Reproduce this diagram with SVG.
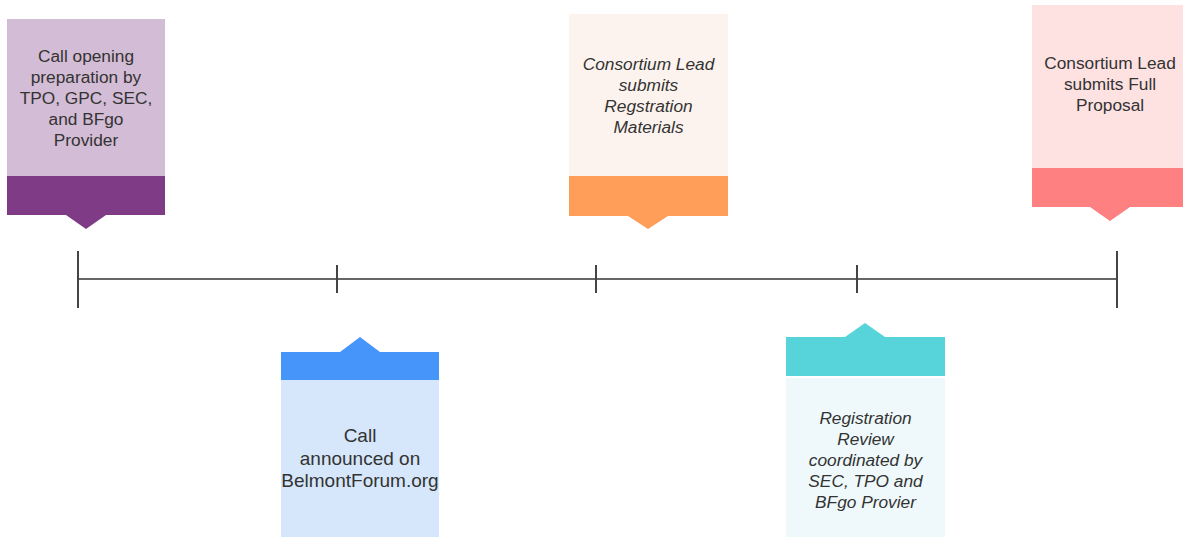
<svg xmlns="http://www.w3.org/2000/svg" width="1183" height="537" viewBox="0 0 1183 537">
<style>
text{font-family:"Liberation Sans",Arial,sans-serif;fill:#333;text-anchor:middle;font-size:17.3px}
.it{font-style:italic}
.big{font-size:19px}
.axis{stroke:#333;stroke-width:1.5;fill:none}
.tick{stroke:#444;stroke-width:2;fill:none}
</style>
<rect width="1183" height="537" fill="#fff"/>
<g id="timeline">
<line class="axis" x1="78" y1="279" x2="1117" y2="279"/>
<line class="tick" x1="78" y1="251" x2="78" y2="308"/>
<line class="tick" x1="337" y1="265" x2="337" y2="293"/>
<line class="tick" x1="596" y1="265" x2="596" y2="293"/>
<line class="tick" x1="857" y1="265" x2="857" y2="293"/>
<line class="tick" x1="1117" y1="251" x2="1117" y2="308"/>
</g>
<g id="node1">
<rect x="7" y="19" width="158" height="157" fill="#d3bcd5"/>
<path d="M7 176H165V215H106L86 229L66 215H7Z" fill="#7f3b86"/>
<text x="86" y="62">Call opening</text>
<text x="86" y="83">preparation by</text>
<text x="86" y="104">TPO, GPC, SEC,</text>
<text x="86" y="125">and BFgo</text>
<text x="86" y="146">Provider</text>
</g>
<g id="node2">
<path d="M281 352H340L360 337L380 352H439V380H281Z" fill="#4595fb"/>
<rect x="281" y="380" width="158" height="157" fill="#d6e7fb"/>
<text class="big" x="360" y="442">Call</text>
<text class="big" x="360" y="464.5">announced on</text>
<text class="big" x="360" y="487">BelmontForum.org</text>
</g>
<g id="node3">
<rect x="569" y="14" width="159" height="162" fill="#fdf3ee"/>
<path d="M569 176H728V216H668L648 229L628 216H569Z" fill="#fe9e59"/>
<text class="it" x="648.5" y="69.5">Consortium Lead</text>
<text class="it" x="648.5" y="90.5">submits</text>
<text class="it" x="648.5" y="111.5">Regstration</text>
<text class="it" x="648.5" y="132.5">Materials</text>
</g>
<g id="node4">
<path d="M786 337H845L865 323L885 337H945V376H786Z" fill="#56d4d9"/>
<rect x="786" y="378" width="159" height="159" fill="#eff9fb"/>
<text class="it" x="865.5" y="423.5">Registration</text>
<text class="it" x="865.5" y="444.5">Review</text>
<text class="it" x="865.5" y="465.5">coordinated by</text>
<text class="it" x="865.5" y="486.5">SEC, TPO and</text>
<text class="it" x="865.5" y="507.5">BFgo Provier</text>
</g>
<g id="node5">
<rect x="1032" y="5" width="151" height="163" fill="#fee2e2"/>
<path d="M1032 168H1183V207H1130L1110 221L1090 207H1032Z" fill="#fe8080"/>
<text x="1110" y="69">Consortium Lead</text>
<text x="1110" y="90">submits Full</text>
<text x="1110" y="111">Proposal</text>
</g>
</svg>
